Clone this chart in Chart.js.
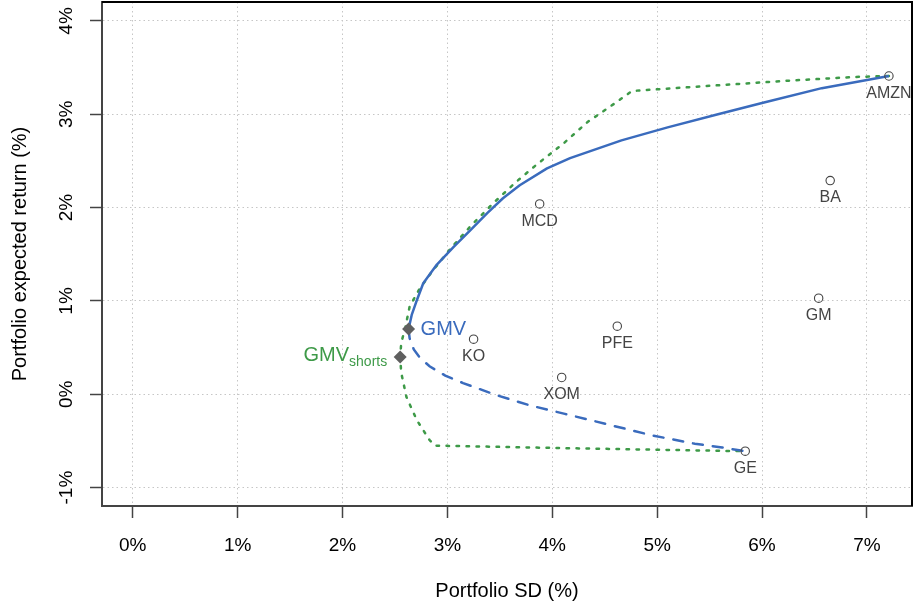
<!DOCTYPE html>
<html><head><meta charset="utf-8">
<script src="https://cdn.jsdelivr.net/npm/chart.js@4.4.0/dist/chart.umd.min.js"></script>
<style>html,body{margin:0;padding:0;background:#fff;}canvas{display:block;}</style>
</head><body>
<canvas id="c" width="915" height="610"></canvas>
<script>
// ---- data (percent) ----
const assetNames = ['AMZN','BA','MCD','GM','KO','PFE','XOM','GE'];
const assetSD    = [7.21, 6.65, 3.88, 6.54, 3.25, 4.62, 4.09, 5.84];
const assetRet   = [3.41, 2.29, 2.04, 1.03, 0.59, 0.73, 0.18, -0.61];

// efficient frontier, no short sales (upper, solid)
const effSD  = [2.63, 2.66, 2.70, 2.77, 2.90, 3.06, 3.22, 3.38, 3.53, 3.69, 3.95, 4.17, 4.66, 5.10, 5.58, 6.00, 6.57, 7.21];
const effRet = [0.70, 0.85, 0.98, 1.19, 1.39, 1.58, 1.76, 1.94, 2.10, 2.24, 2.42, 2.53, 2.72, 2.86, 3.00, 3.12, 3.28, 3.41];

// inefficient part, no short sales (lower, dashed)
const ineffSD  = [2.63, 2.64, 2.68, 2.74, 2.83, 2.98, 3.15, 3.47, 3.79, 4.12, 4.41, 4.95, 5.36, 5.62, 5.84];
const ineffRet = [0.70, 0.60, 0.48, 0.39, 0.30, 0.20, 0.12, -0.01, -0.12, -0.21, -0.29, -0.44, -0.53, -0.57, -0.61];

// frontier with short sales (dotted)
const shortSD  = [7.21, 6.89, 6.25, 5.30, 4.76, 4.60, 4.34, 4.11, 3.85, 3.66, 3.44, 3.22, 3.03, 2.85, 2.73, 2.64, 2.60, 2.56, 2.55, 2.56, 2.61, 2.71, 2.83, 2.88, 4.26, 5.84];
const shortRet = [3.41, 3.40, 3.36, 3.29, 3.25, 3.12, 2.92, 2.69, 2.46, 2.28, 2.05, 1.80, 1.56, 1.31, 1.12, 0.94, 0.72, 0.55, 0.40, 0.23, -0.03, -0.28, -0.49, -0.55, -0.58, -0.61];

const gmv       = {sd: 2.63, ret: 0.70};
const gmvShorts = {sd: 2.55, ret: 0.40};

const xTicks = [0, 1, 2, 3, 4, 5, 6, 7];
const yTicks = [-1, 0, 1, 2, 3, 4];
const xRange = [-0.293, 7.43];
const yRange = [-1.197, 4.203];

// ---- styling ----
const FONT = '"Liberation Sans", Arial, sans-serif';
const BLUE = '#3a6bbd';
const GREEN = '#3e9a48';
const GREY = '#444444';

const toXY = (xs, ys) => xs.map((x, i) => ({x: x, y: ys[i]}));

const boxPlugin = {
  id: 'box',
  afterDraw(chart) {
    const a = chart.chartArea, c = chart.ctx;
    c.save();
    c.strokeStyle = '#000'; c.lineWidth = 2;
    c.beginPath();
    c.moveTo(a.left, a.top); c.lineTo(a.right, a.top); c.lineTo(a.right, a.bottom);
    c.stroke();
    c.restore();
  }
};

const labelPlugin = {
  id: 'labels',
  afterDatasetsDraw(chart) {
    const c = chart.ctx, xs = chart.scales.x, ys = chart.scales.y;
    c.save();
    c.fillStyle = GREY;
    c.font = '16px ' + FONT;
    c.textAlign = 'center'; c.textBaseline = 'middle';
    assetNames.forEach((n, i) => {
      c.fillText(n, xs.getPixelForValue(assetSD[i]), ys.getPixelForValue(assetRet[i]) + 17.5);
    });
    // GMV label
    c.fillStyle = BLUE; c.font = '20px ' + FONT; c.textAlign = 'left';
    c.fillText('GMV', xs.getPixelForValue(gmv.sd) + 12, ys.getPixelForValue(gmv.ret) + 0.5);
    // GMV shorts label with subscript
    const px = xs.getPixelForValue(gmvShorts.sd) - 13, py = ys.getPixelForValue(gmvShorts.ret);
    c.fillStyle = GREEN;
    c.font = '14px ' + FONT;
    const subW = c.measureText('shorts').width;
    c.textAlign = 'right';
    c.fillText('shorts', px, py + 5);
    c.font = '20px ' + FONT;
    c.fillText('GMV', px - subW, py - 1);
    c.restore();
  }
};

const zeroPad = s => { s.paddingTop = 0; s.paddingBottom = 0; s.paddingLeft = 0; s.paddingRight = 0; };

const axisCommon = (ticksArr, range, fitFn) => ({
  type: 'linear',
  min: range[0], max: range[1],
  afterBuildTicks: s => { s.ticks = ticksArr.map(v => ({value: v})); },
  afterFit: s => { fitFn(s); zeroPad(s); },
  grid: {color: '#c6c6c6', lineWidth: 1, tickLength: 12, tickColor: GREY, tickWidth: 1.5, tickBorderDash: []},
  border: {display: true, color: GREY, width: 2, dash: [1.5, 3]}
});

const xScale = Object.assign(axisCommon(xTicks, xRange, s => { s.height = 104; }), {
  position: 'bottom',
  ticks: {callback: v => v + '%', font: {family: FONT, size: 19}, color: '#000', padding: 16, autoSkip: false, maxRotation: 0, minRotation: 0},
  title: {display: true, text: 'Portfolio SD (%)', font: {family: FONT, size: 20}, color: '#000', padding: {top: 0, bottom: 7}}
});
const yScale = Object.assign(axisCommon(yTicks, yRange, s => { s.width = 102; }), {
  position: 'left',
  ticks: {callback: v => v + '%', font: {family: FONT, size: 19}, color: '#000', padding: 6, autoSkip: false, minRotation: 90, maxRotation: 90, crossAlign: 'center'},
  title: {display: true, text: 'Portfolio expected return (%)', font: {family: FONT, size: 20}, color: '#000', padding: {top: 8, bottom: 0}}
});

new Chart(document.getElementById('c'), {
  type: 'scatter',
  data: {
    datasets: [
      {label: 'GMV', data: [{x: gmv.sd, y: gmv.ret}], pointStyle: 'rectRot', pointRadius: 6.5, backgroundColor: '#5f5f5f', borderColor: '#5f5f5f', borderWidth: 0},
      {label: 'GMV shorts', data: [{x: gmvShorts.sd, y: gmvShorts.ret}], pointStyle: 'rectRot', pointRadius: 6.5, backgroundColor: '#5f5f5f', borderColor: '#5f5f5f', borderWidth: 0},
      {label: 'Assets', data: toXY(assetSD, assetRet), pointStyle: 'circle', pointRadius: 4.2, backgroundColor: 'rgba(255,255,255,0)', borderColor: GREY, borderWidth: 1.1},
      {label: 'Efficient', data: toXY(effSD, effRet), showLine: true, pointRadius: 0, borderColor: BLUE, borderWidth: 2.5, tension: 0, borderJoinStyle: 'round'},
      {label: 'Inefficient', data: toXY(ineffSD, ineffRet), showLine: true, pointRadius: 0, borderColor: BLUE, borderWidth: 2.5, tension: 0, borderDash: [10, 10], borderCapStyle: 'round'},
      {label: 'Shorts', data: toXY(shortSD, shortRet), showLine: true, pointRadius: 0, borderColor: GREEN, borderWidth: 2.5, tension: 0, borderDash: [2.5, 7.5], borderCapStyle: 'round'}
    ]
  },
  options: {
    responsive: false, animation: false, devicePixelRatio: 1,
    layout: {autoPadding: false, padding: {left: 0, top: 2, right: 3, bottom: 0}},
    plugins: {legend: {display: false}, tooltip: {enabled: false}},
    scales: {x: xScale, y: yScale}
  },
  plugins: [boxPlugin, labelPlugin]
});
</script>
</body></html>
